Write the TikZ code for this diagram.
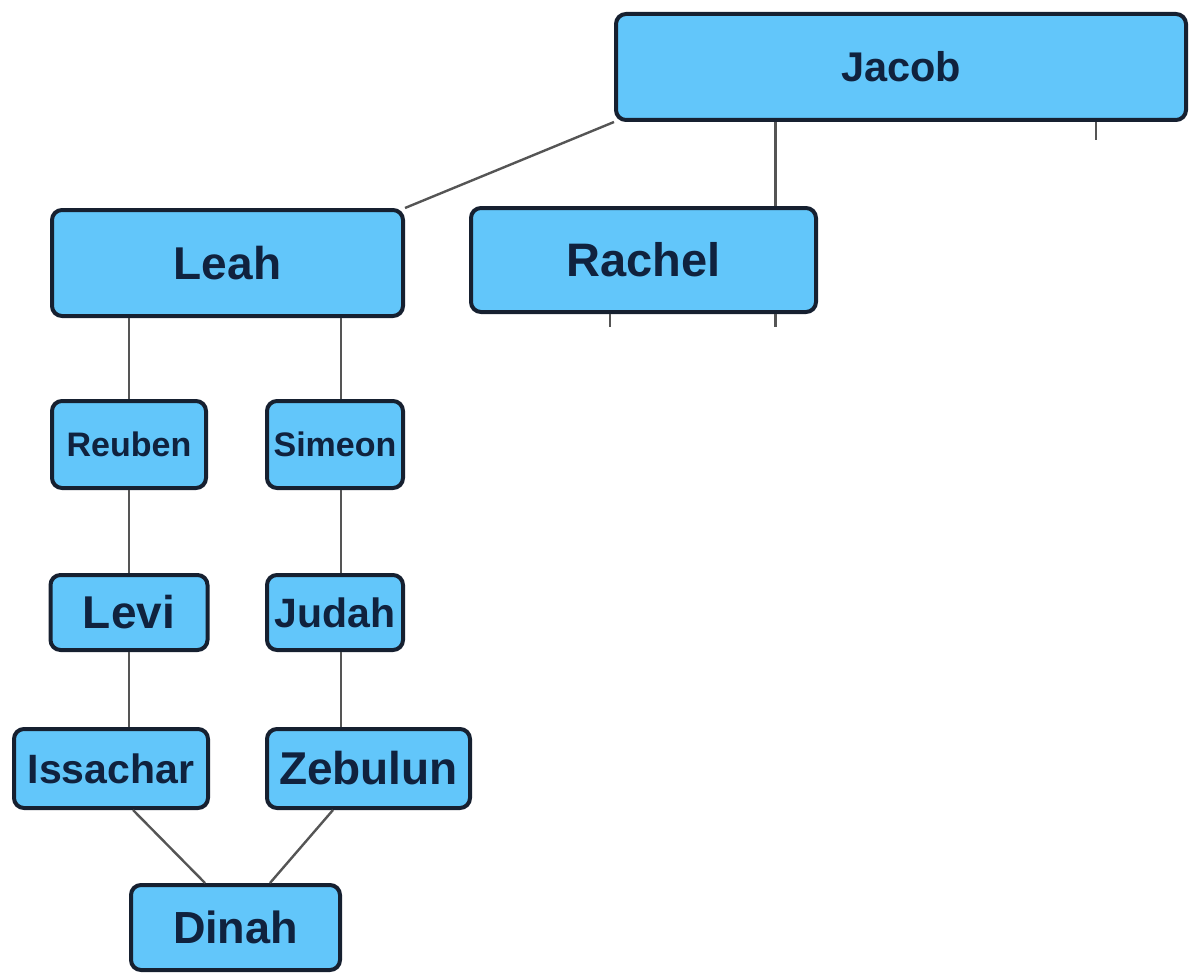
\documentclass[tikz,border=0pt]{standalone}
\usepackage{fontspec}
\setmainfont{Liberation Sans}

\definecolor{boxblue}{RGB}{98,198,250}
\definecolor{boxline}{RGB}{22,32,48}
\definecolor{boxtext}{RGB}{16,34,62}
\definecolor{linkgray}{RGB}{85,85,85}

\begin{document}
\begin{tikzpicture}[x = .5pt, y = -.5pt,
		person/.style = {draw = boxline, fill = boxblue, line width = 2pt, rounded corners = 5pt,
			inner sep = 0pt, text = boxtext, font = \fontsize{#1}{#1}\selectfont\bfseries},
		link/.style = {draw = linkgray, line width = 1.2pt}]
		\useasboundingbox (0,0) rectangle (1189,974);
		
		\node (Jacob) at (901,67) [person = 20.75pt, minimum width = 285pt, minimum height = 53pt] {Jacob};
		\node (Leah) at (227.5,263) [person = 23pt, minimum width = 175.5pt, minimum height = 53pt] {Leah};
		\node (Rachel) at (643.5,260) [person = 23.5pt, minimum width = 172.5pt, minimum height = 52pt] {Rachel};
		
		\node (Reuben) at (129,444.5) [person = 17pt, minimum width = 77pt, minimum height = 43.5pt] {Reuben};
		\node (Simeon) at (335,444.5) [person = 17pt, minimum width = 68pt, minimum height = 43.5pt] {Simeon};
		\node (Levi) at (129,612.5) [person = 23pt, minimum width = 78.5pt, minimum height = 37.5pt] {Levi};
		\node (Judah) at (335,612.5) [person = 20.5pt, minimum width = 68pt, minimum height = 37.5pt] {Judah};
		\node (Issachar) at (111,768.5) [person = 20.5pt, minimum width = 97pt, minimum height = 39.5pt] {Issachar};
		\node (Zebulun) at (368.5,768.5) [person = 23pt, minimum width = 101.5pt, minimum height = 39.5pt] {Zebulun};
		\node (Dinah) at (235.5,927.5) [person = 22.5pt, minimum width = 104.5pt, minimum height = 42.5pt] {Dinah};
		
		\coordinate (tJ) at ([xshift = 97.5pt, yshift = -9pt]Jacob.south);
		\coordinate (tRa) at ([xshift = -16.75pt, yshift = -6.5pt]Rachel.south);
		\coordinate (tRb) at ([xshift = 66pt, yshift = -6.5pt]Rachel.south);
		
		\draw [link] (Leah.north east) -- (Jacob.south west);
		\draw [link] ([xshift = 66pt]Rachel.north) -- ([xshift = 66pt]Rachel.north |- Jacob.south);
		\draw [link] (tJ |- Jacob.south) -- (tJ);
		\draw [link] (tRa |- Rachel.south) -- (tRa);
		\draw [link] (tRb |- Rachel.south) -- (tRb);
		
		\draw [link] (Reuben.north |- Leah.south) -- (Reuben.north);
		\draw [link] (Reuben) -- (Levi);
		\draw [link] (Levi.south) -- (Levi.south |- Issachar.north);
		\draw [link] ([xshift = 3pt]Simeon.north |- Leah.south) -- ([xshift = 3pt]Simeon.north);
		\draw [link] ([xshift = 3pt]Simeon.south) -- ([xshift = 3pt]Judah.north);
		\draw [link] ([xshift = 3pt]Judah.south) -- ([xshift = 3pt]Judah.south |- Zebulun.north);
		
		\draw [link] ([xshift = 11pt]Issachar.south) -- ([xshift = -15.25pt]Dinah.north);
		\draw [link] ([xshift = -17.75pt]Zebulun.south) -- ([xshift = 17.25pt]Dinah.north);
		\end{tikzpicture}
\end{document}
